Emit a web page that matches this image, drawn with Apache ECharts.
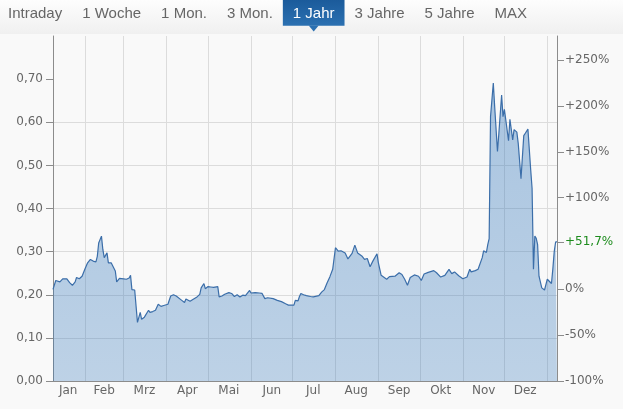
<!DOCTYPE html>
<html>
<head>
<meta charset="utf-8">
<script src="https://cdn.jsdelivr.net/npm/echarts@6/dist/echarts.min.js"></script>
<style>
html,body{margin:0;padding:0;background:#f9f9f9;}
#c{width:623px;height:409px;}
</style>
</head>
<body>
<div id="c"></div>
<script>
const monthNames = ['Jan','Feb','Mrz','Apr','Mai','Jun','Jul','Aug','Sep','Okt','Nov','Dez'];
const tabLabels = ['Intraday','1 Woche','1 Mon.','3 Mon.','1 Jahr','3 Jahre','5 Jahre','MAX'];
const selectedTab = '1 Jahr';
const startDate = '2023-01-09';
const endDate = '2024-01-08';
const priceTicks = [0,0.1,0.2,0.3,0.4,0.5,0.6,0.7];
const pctTicks = [-100,-50,0,100,150,200,250];
const priceMax = 0.8;

const dates = [
 '2023-01-09','2023-01-10','2023-01-11','2023-01-14','2023-01-16','2023-01-17','2023-01-19','2023-01-21','2023-01-23','2023-01-25','2023-01-26','2023-01-28','2023-01-30','2023-01-31',
 '2023-02-01','2023-02-03','2023-02-05','2023-02-07','2023-02-09','2023-02-10','2023-02-11','2023-02-13','2023-02-14','2023-02-15','2023-02-17','2023-02-18','2023-02-20','2023-02-21','2023-02-23','2023-02-24','2023-02-26','2023-02-27',
 '2023-03-01','2023-03-03','2023-03-05','2023-03-06','2023-03-07','2023-03-09','2023-03-10','2023-03-11','2023-03-13','2023-03-14','2023-03-16','2023-03-17','2023-03-19','2023-03-20','2023-03-22','2023-03-24','2023-03-26','2023-03-28','2023-03-30',
 '2023-04-02','2023-04-04','2023-04-06','2023-04-08','2023-04-09','2023-04-12','2023-04-14','2023-04-15','2023-04-18','2023-04-20','2023-04-23','2023-04-25','2023-04-26','2023-04-28','2023-04-29',
 '2023-05-01','2023-05-03','2023-05-05','2023-05-06','2023-05-08','2023-05-09','2023-05-11','2023-05-13','2023-05-14','2023-05-16','2023-05-18','2023-05-20','2023-05-22','2023-05-24','2023-05-26','2023-05-28','2023-05-31',
 '2023-06-01','2023-06-04','2023-06-07','2023-06-09','2023-06-11','2023-06-13','2023-06-17','2023-06-20','2023-06-23','2023-06-26','2023-06-28','2023-06-30',
 '2023-07-02','2023-07-03','2023-07-05','2023-07-06','2023-07-07','2023-07-09','2023-07-11','2023-07-14','2023-07-16','2023-07-20','2023-07-22','2023-07-24','2023-07-26','2023-07-28','2023-07-30',
 '2023-08-01','2023-08-03','2023-08-05','2023-08-08','2023-08-10','2023-08-13','2023-08-15','2023-08-17','2023-08-20','2023-08-22','2023-08-24','2023-08-26','2023-08-28','2023-08-31',
 '2023-09-01','2023-09-03','2023-09-04','2023-09-07','2023-09-09','2023-09-13','2023-09-16','2023-09-18','2023-09-20','2023-09-22','2023-09-24','2023-09-27','2023-09-30',
 '2023-10-02','2023-10-04','2023-10-07','2023-10-11','2023-10-13','2023-10-16','2023-10-19','2023-10-22','2023-10-24','2023-10-26','2023-10-29',
 '2023-11-01','2023-11-04','2023-11-06','2023-11-07','2023-11-10','2023-11-12','2023-11-15','2023-11-16','2023-11-18','2023-11-19','2023-11-20','2023-11-21','2023-11-23','2023-11-24','2023-11-26','2023-11-27','2023-11-29','2023-11-30',
 '2023-12-01','2023-12-02','2023-12-04','2023-12-05','2023-12-07','2023-12-08','2023-12-10','2023-12-11','2023-12-13','2023-12-15','2023-12-16','2023-12-18','2023-12-20','2023-12-21','2023-12-22','2023-12-23','2023-12-24','2023-12-25','2023-12-26','2023-12-28','2023-12-30',
 '2024-01-01','2024-01-02','2024-01-04','2024-01-05','2024-01-06','2024-01-07','2024-01-08'
];
const prices = [
 0.2125,0.213,0.233,0.230,0.237,0.233,0.237,0.228,0.222,0.230,0.240,0.237,0.243,0.242,
 0.259,0.274,0.282,0.278,0.276,0.289,0.320,0.336,0.305,0.286,0.297,0.274,0.274,0.270,0.255,0.230,0.238,0.240,
 0.237,0.236,0.239,0.245,0.212,0.211,0.209,0.136,0.159,0.143,0.148,0.148,0.164,0.159,0.161,0.164,0.178,0.173,0.175,
 0.178,0.197,0.200,0.197,0.193,0.187,0.182,0.190,0.185,0.189,0.195,0.201,0.216,0.226,0.214,
 0.219,0.218,0.217,0.220,0.219,0.195,0.197,0.201,0.197,0.205,0.203,0.196,0.200,0.195,0.199,0.198,0.210,
 0.204,0.205,0.204,0.203,0.191,0.193,0.191,0.187,0.184,0.179,0.176,0.176,
 0.176,0.187,0.186,0.196,0.203,0.200,0.198,0.196,0.195,0.198,0.206,0.212,0.228,0.242,0.259,
 0.309,0.301,0.302,0.297,0.283,0.296,0.315,0.297,0.290,0.282,0.284,0.265,0.278,0.295,
 0.274,0.245,0.249,0.236,0.242,0.243,0.251,0.247,0.236,0.222,0.240,0.246,0.243,
 0.233,0.248,0.252,0.256,0.251,0.241,0.245,0.259,0.249,0.253,0.244,
 0.237,0.241,0.259,0.253,0.256,0.259,0.286,0.302,0.298,0.316,0.330,0.613,0.691,0.636,0.532,0.574,0.663,0.613,
 0.630,0.630,0.557,0.607,0.559,0.583,0.577,0.551,0.469,0.569,0.574,0.584,0.490,0.447,0.259,0.336,0.331,0.316,0.243,0.216,0.211,
 0.236,0.234,0.226,0.260,0.300,0.3224,0.3224
];

// ---- build axis categories (one per calendar day) ----
const DAY = 86400000;
function parseD(s){const p=s.split('-').map(Number);return Date.UTC(p[0],p[1]-1,p[2]);}
const days = [];
for(let t=parseD(startDate); t<=parseD(endDate); t+=DAY){ days.push(new Date(t).toISOString().slice(0,10)); }
const dayIndex = {};
days.forEach((d,i)=>{dayIndex[d]=i;});
const seriesData = dates.map((d,i)=>[dayIndex[d], prices[i]]);

const monthStarts = new Set();
const bounds = [0];
days.forEach((d,i)=>{ if(i>0 && d.slice(8)==='01'){ monthStarts.add(i); bounds.push(i);} });
bounds.push(days.length-1);
const labelIdx = new Set();
for(let k=0;k<bounds.length-1;k++){
  const a=bounds[k], b=bounds[k+1];
  if(b-a>=15) labelIdx.add(Math.floor((a+b)/2));
}

const basePrice = prices[0];
const lastPrice = prices[prices.length-1];
const lastPct = (lastPrice/basePrice-1)*100;
const pctMax = (priceMax/basePrice-1)*100;

const axisGray = '#8c8c8c';
const labelGray = '#666666';
const gridGray = '#dcdcdc';
const labelFont = 'DejaVu Sans';

// ---- tab bar graphic ----
const mctx = document.createElement('canvas').getContext('2d');
mctx.font = '15px "Liberation Sans"';
const tabGraphics = [];
tabGraphics.push({type:'rect', shape:{x:0,y:0,width:623,height:34}, z:-10,
  style:{fill:new echarts.graphic.LinearGradient(0,0,0,1,[{offset:0,color:'#fdfdfd'},{offset:1,color:'#f0f0f0'}])}});
let tx = -2;
tabLabels.forEach(lbl=>{
  const w = mctx.measureText(lbl).width + 20;
  const sel = lbl===selectedTab;
  if(sel){
    tabGraphics.push({type:'rect', shape:{x:tx,y:0,width:w,height:25.7},
      style:{fill:new echarts.graphic.LinearGradient(0,0,0,1,[{offset:0,color:'#1b5b9b'},{offset:1,color:'#2b70b1'}])}});
    const cx = tx + w/2;
    tabGraphics.push({type:'polygon', shape:{points:[[cx-5,25.5],[cx+5,25.5],[cx,31.5]]}, style:{fill:'#2b70b1'}});
  }
  tabGraphics.push({type:'text', x:tx+10, y:13.5,
    style:{text:lbl, font:'15px "Liberation Sans"', fill: sel?'#ffffff':'#666666', textVerticalAlign:'middle', textAlign:'left'}});
  tx += w;
});

const chart = echarts.init(document.getElementById('c'), null, {renderer:'canvas'});
chart.setOption({
  animation:false,
  backgroundColor:'#f9f9f9',
  graphic: tabGraphics,
  grid:{left:53, right:66, top:36, bottom:28, containLabel:false},
  xAxis:{
    type:'category', data:days, boundaryGap:false,
    axisLine:{show:true, lineStyle:{color:axisGray, width:1}},
    axisTick:{show:false},
    axisLabel:{interval:(i)=>labelIdx.has(i),
      formatter:(v)=>monthNames[Number(v.slice(5,7))-1], margin:4,
      color:labelGray, fontFamily:labelFont, fontSize:12},
    splitLine:{show:true, interval:(i)=>monthStarts.has(i), lineStyle:{color:gridGray, width:1}}
  },
  yAxis:[
    {type:'value', position:'left', min:0, max:priceMax, interval:0.1,
     axisLine:{show:true, lineStyle:{color:axisGray}},
     axisTick:{show:true, length:7, customValues:priceTicks, lineStyle:{color:axisGray}},
     axisLabel:{customValues:priceTicks, margin:10, color:labelGray, fontFamily:labelFont, fontSize:12,
       formatter:(v)=>v.toFixed(2).replace('.',',')},
     splitLine:{show:true, showMaxLine:false, lineStyle:{color:gridGray, width:1}}},
    {type:'value', position:'right', min:-100, max:pctMax, interval:50,
     axisLine:{show:true, lineStyle:{color:axisGray}},
     axisTick:{show:true, length:7, customValues:pctTicks, lineStyle:{color:axisGray}},
     axisLabel:{customValues:pctTicks, margin:8, color:labelGray, fontFamily:labelFont, fontSize:12,
       formatter:(v)=>(v>0?'+':'')+Math.round(v)+'%'},
     splitLine:{show:false}},
    {type:'value', position:'right', min:-100, max:pctMax,
     axisLine:{show:false},
     axisTick:{show:true, length:7, customValues:[lastPct], lineStyle:{color:axisGray}},
     axisLabel:{customValues:[lastPct], margin:8, color:'#1e8c1e', fontFamily:labelFont, fontSize:12,
       formatter:(v)=>(v>0?'+':'')+v.toFixed(1).replace('.',',')+'%'},
     splitLine:{show:false}}
  ],
  series:[{
    type:'line', xAxisIndex:0, yAxisIndex:0, data:seriesData,
    symbol:'none', smooth:false,
    lineStyle:{color:'#3b6ea9', width:1.2},
    areaStyle:{color:new echarts.graphic.LinearGradient(0,0,0,1,[
      {offset:0,color:'rgba(45,115,185,0.56)'},{offset:1,color:'rgba(45,115,185,0.42)'}])}
  }]
});
</script>
</body>
</html>
